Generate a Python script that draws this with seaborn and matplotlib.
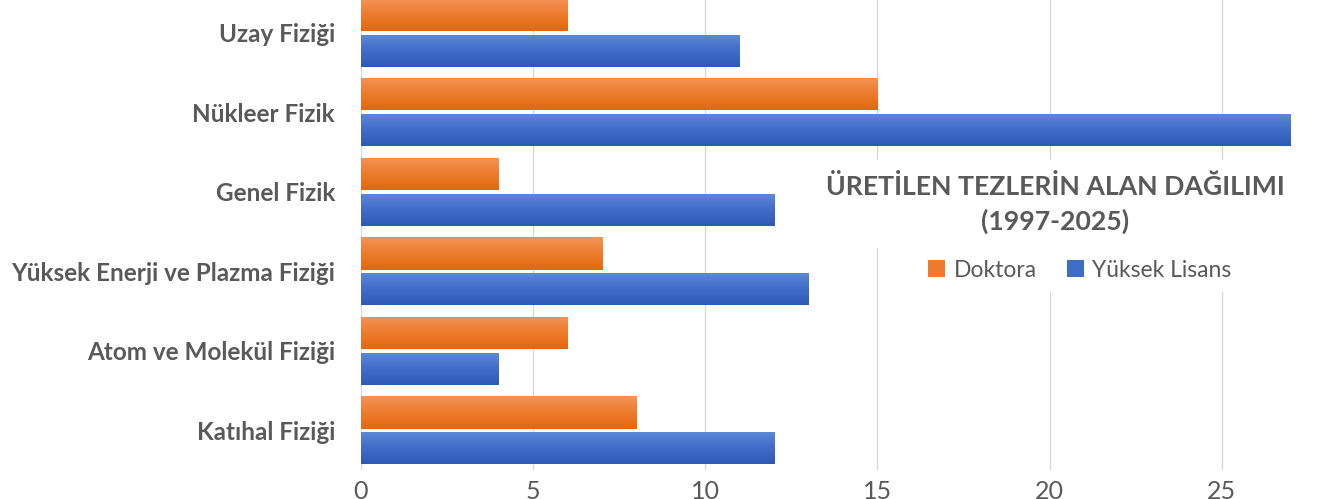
import numpy as np
import pandas as pd
import seaborn as sns
import matplotlib.pyplot as plt
from matplotlib.colors import LinearSegmentedColormap, to_hex

# data
fields = ["Uzay Fiziği", "Nükleer Fizik", "Genel Fizik",
          "Yüksek Enerji ve Plazma Fiziği", "Atom ve Molekül Fiziği", "Katıhal Fiziği"]
doktora = [6, 15, 4, 7, 6, 8]
yuksek_lisans = [11, 27, 12, 13, 4, 12]
series = ["Doktora", "Yüksek Lisans"]

df = pd.DataFrame({
    "alan": fields * 2,
    "tez": doktora + yuksek_lisans,
    "tur": [series[0]] * len(fields) + [series[1]] * len(fields),
})

sns.set_theme(style="white")
plt.rcParams["font.family"] = ["Lato", "DejaVu Sans"]

orange = "#EE7A30"
blue = "#3E6DC5"
gray_text = "#595959"

fig = plt.figure(figsize=(13.31, 4.99), dpi=100)
ax = fig.add_axes([0.2712, 0.058, 0.7288, 0.956])

sns.barplot(data=df, x="tez", y="alan", hue="tur", hue_order=series,
            order=fields, palette=[orange, blue], saturation=1,
            width=0.9, gap=0.1, orient="h", ax=ax, legend=True)

# gradient fill on every bar (lighter top, darker bottom)
cmaps = {
    to_hex(orange): LinearSegmentedColormap.from_list("o", ["#F39456", "#EE7B2E", "#E2680F"]),
    to_hex(blue): LinearSegmentedColormap.from_list("b", ["#5F8AD7", "#3F6DC9", "#2D5BB4"]),
}
grad = np.linspace(0, 1, 64).reshape(-1, 1)
for bar in ax.patches:
    fc = to_hex(bar.get_facecolor())
    if fc not in cmaps:
        continue
    bar.set_edgecolor("none")
    x0, y0 = bar.get_x(), bar.get_y()
    w, h = bar.get_width(), bar.get_height()
    im = ax.imshow(grad, cmap=cmaps[fc], aspect="auto", origin="upper",
                   extent=(x0, x0 + w, y0 + h, y0), zorder=3)
    im.set_clip_path(bar)

ax.set_xlim(0, 28.17)
ax.set_ylim(5.5, -0.5)
ax.set_xticks([0, 5, 10, 15, 20, 25])
ax.grid(axis="x", color="#D9D9D9", linewidth=1)
ax.grid(axis="y", visible=False)
ax.set_axisbelow(True)
sns.despine(ax=ax, left=True, bottom=True)
ax.set_xlabel("")
ax.set_ylabel("")
ax.tick_params(axis="y", length=0, pad=18.7, labelsize=17.5, labelcolor=gray_text)
ax.tick_params(axis="x", length=0, pad=7, labelsize=18, labelcolor=gray_text)
for lab in ax.get_yticklabels():
    lab.set_fontweight("bold")

ax.text(0.7155, 0.558, "ÜRETİLEN TEZLERİN ALAN DAĞILIMI\n(1997-2025)",
        transform=ax.transAxes, ha="center", va="center", fontsize=19.2,
        fontweight="bold", color=gray_text, linespacing=1.45, zorder=5,
        bbox=dict(facecolor="white", edgecolor="none", pad=10))

leg = ax.legend(loc="center", bbox_to_anchor=(0.741, 0.419), ncol=2, frameon=True,
                fontsize=16.5, handlelength=0.75, handleheight=0.75,
                handletextpad=0.37, columnspacing=1.3, borderpad=0.5)
leg.get_frame().set_facecolor("white")
leg.get_frame().set_edgecolor("none")
leg.get_frame().set_alpha(1)
leg.set_zorder(5)
for t in leg.get_texts():
    t.set_color(gray_text)

fig.savefig("out.png", dpi=100)
